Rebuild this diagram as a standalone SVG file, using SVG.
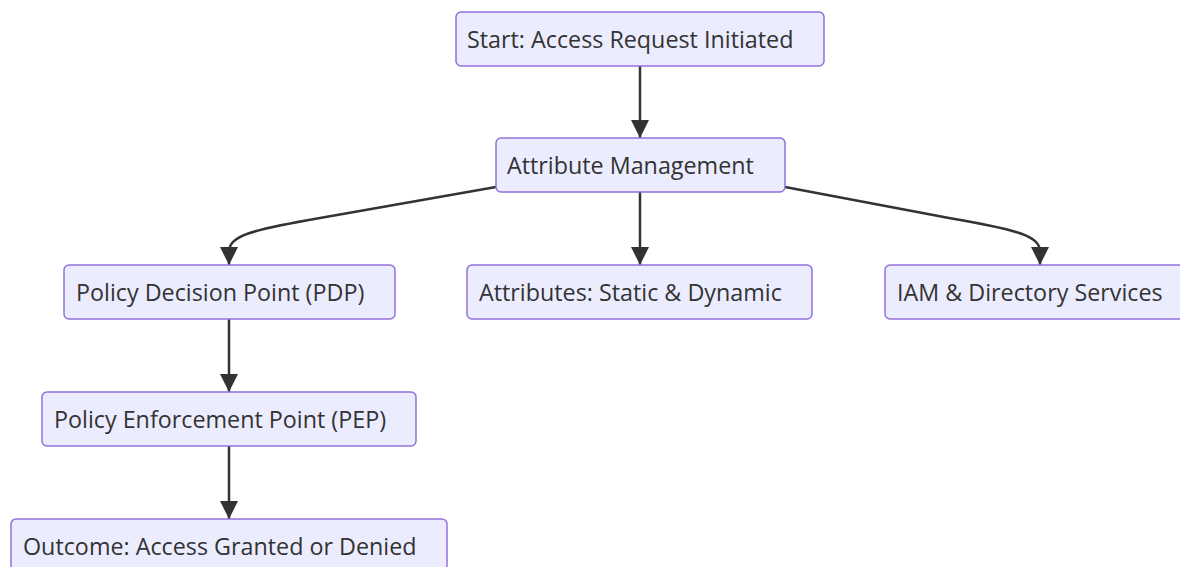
<svg xmlns="http://www.w3.org/2000/svg" width="1180" height="567" viewBox="0 0 1180 567">
  <style>
    .node rect { fill: #ECECFF; stroke: #9370DB; stroke-width: 1.5; }
    .node text { font-family: "Open Sans", "Liberation Sans", sans-serif; font-size: 23.3px; fill: #333333; }
    .edge { fill: none; stroke: #333333; stroke-width: 2.5; }
  </style>
  <defs>
    <marker id="arrow" viewBox="0 0 10 10" refX="10" refY="5" markerWidth="7.2" markerHeight="7.2" markerUnits="strokeWidth" orient="auto">
      <path d="M0,0 L10,5 L0,10 Z" fill="#333333"/>
    </marker>
  </defs>
  <rect width="1180" height="567" fill="#ffffff"/>

  <g id="connectors">
    <path class="edge" d="M640,66 L640,138" marker-end="url(#arrow)"/>
    <path class="edge" d="M640,192 L640,265" marker-end="url(#arrow)"/>
    <path class="edge" d="M496,187 L320,218 C250,230 229,236 229,252 L229,265" marker-end="url(#arrow)"/>
    <path class="edge" d="M785,187 L949,218 C1019,230 1040,236 1040,252 L1040,265" marker-end="url(#arrow)"/>
    <path class="edge" d="M229,319 L229,392" marker-end="url(#arrow)"/>
    <path class="edge" d="M229,446 L229,519" marker-end="url(#arrow)"/>
  </g>

  <g id="start" class="node">
    <rect x="456" y="12" width="368" height="54" rx="5"/>
    <text x="467" y="47.5">Start: Access Request Initiated</text>
  </g>
  <g id="attribute-management" class="node">
    <rect x="496" y="138" width="289" height="54" rx="5"/>
    <text x="507" y="173.5">Attribute Management</text>
  </g>
  <g id="pdp" class="node">
    <rect x="64" y="265" width="331" height="54" rx="5"/>
    <text x="76" y="300.5">Policy Decision Point (PDP)</text>
  </g>
  <g id="attributes" class="node">
    <rect x="467" y="265" width="345" height="54" rx="5"/>
    <text x="479" y="300.5">Attributes: Static &amp; Dynamic</text>
  </g>
  <g id="iam" class="node">
    <rect x="885" y="265" width="310" height="54" rx="5"/>
    <text x="897" y="300.5">IAM &amp; Directory Services</text>
  </g>
  <g id="pep" class="node">
    <rect x="42" y="392" width="374" height="54" rx="5"/>
    <text x="54" y="427.5">Policy Enforcement Point (PEP)</text>
  </g>
  <g id="outcome" class="node">
    <rect x="11" y="519" width="436" height="54" rx="5"/>
    <text x="23" y="554.5">Outcome: Access Granted or Denied</text>
  </g>
</svg>
